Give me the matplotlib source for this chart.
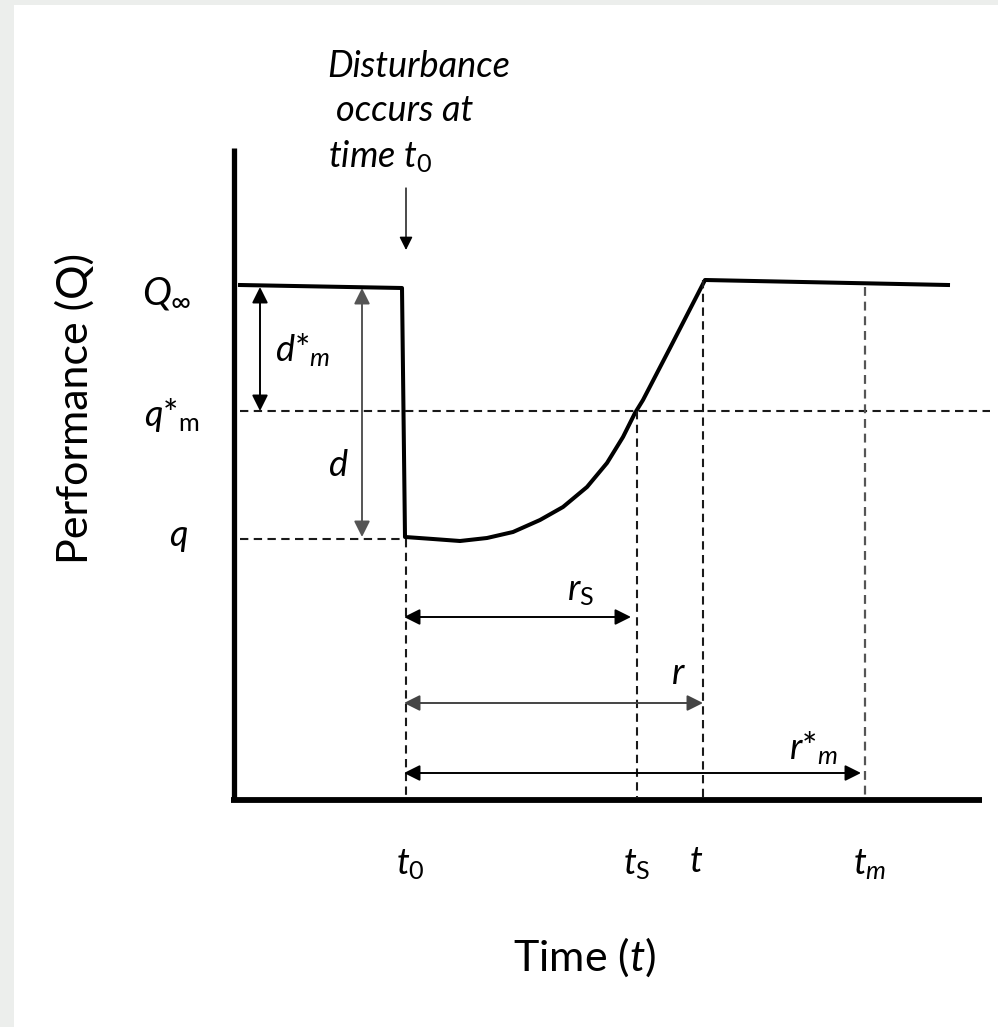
import matplotlib
matplotlib.use("Agg")
import matplotlib.pyplot as plt

plt.rcParams["font.family"] = ["Lato", "DejaVu Sans"]
plt.rcParams["mathtext.fontset"] = "custom"
plt.rcParams["mathtext.rm"] = "Lato"
plt.rcParams["mathtext.it"] = "Lato:italic"
plt.rcParams["mathtext.bf"] = "Lato:bold"

# Schematic values (time and performance in arbitrary units)
T0, TS, TR, TM = 1.72, 4.03, 4.69, 6.31
Q_INF, Q_STAR, Q_MIN = 5.14, 3.89, 2.61

# performance curve: level before the disturbance, drop, recovery, new level
curve_t = [0.06, 1.68, 1.71, 1.99, 2.26, 2.53, 2.79, 3.06, 3.29, 3.53,
           3.73, 3.89, 4.01, 4.09, 4.36, 4.71, 7.14]
curve_q = [5.15, 5.12, 2.63, 2.61, 2.59, 2.62, 2.68, 2.80, 2.93, 3.13,
           3.37, 3.63, 3.87, 4.00, 4.52, 5.20, 5.15]

# where the verticals leave the curve
drop_top = {"ts": Q_STAR, "t": 5.20, "tm": 5.13}

fig = plt.figure(figsize=(9.98, 10.27), dpi=100)
fig.patch.set_facecolor("#eceeec")
bg = fig.add_axes([14 / 998, 0, 984 / 998, 1022 / 1027])
bg.set_facecolor("white")
bg.set_xticks([])
bg.set_yticks([])
for s in bg.spines.values():
    s.set_visible(False)

ax = fig.add_axes([0, 0, 1, 1])
ax.set_xlim(-2.34, 7.64)
ax.set_ylim(-2.27, 8.0)
ax.axis("off")

# axes of the diagram
ax.plot([0, 0], [-0.01, 6.52], color="black", lw=3.8, solid_capstyle="butt")
ax.plot([-0.03, 7.48], [0, 0], color="black", lw=4.2, solid_capstyle="butt")

# curve
ax.plot(curve_t, curve_q, color="black", lw=2.9, solid_joinstyle="round")

dash = dict(color="#1a1a1a", lw=1.5, dashes=(4, 2.6))
ax.plot([0.06, 7.56], [Q_STAR, Q_STAR], **dash)
ax.plot([0.06, 1.71], [Q_MIN, Q_MIN], **dash)
ax.plot([T0, T0], [Q_MIN, 0.02], **dash)
ax.plot([TS, TS], [drop_top["ts"], 0.02], **dash)
ax.plot([TR, TR], [drop_top["t"], 0.02], **dash)
ax.plot([TM, TM], [drop_top["tm"], 0.02], color="#555555", lw=1.6, dashes=(4, 2.6))


def darrow(p0, p1, color="black"):
    ax.annotate("", xy=p1, xytext=p0,
                arrowprops=dict(arrowstyle="<|-|>", color=color, lw=1.4,
                                mutation_scale=24, shrinkA=0, shrinkB=0))


darrow((0.26, 5.13), (0.26, Q_STAR))
darrow((1.28, 5.12), (1.28, 2.63), color="#555555")
darrow((1.70, 1.83), (3.97, 1.83))
darrow((1.70, 0.97), (4.69, 0.97), color="#444444")
darrow((1.70, 0.27), (6.27, 0.27))

# disturbance arrow
ax.annotate("", xy=(1.72, 5.50), xytext=(1.72, 6.12),
            arrowprops=dict(arrowstyle="-|>", color="black", lw=1.0,
                            mutation_scale=20, shrinkA=0, shrinkB=0))

nfs = 26
ax.text(0.93, 7.23, "Disturbance", fontsize=nfs, style="italic", ha="left", va="baseline")
ax.text(1.02, 6.79, "occurs at", fontsize=nfs, style="italic", ha="left", va="baseline")
ax.text(0.94, 6.33, "time $t_0$", fontsize=nfs, style="italic", ha="left", va="baseline")

ax.text(-1.59, 3.92, "Performance (Q)", fontsize=31, rotation=90, ha="center", va="center")
ax.text(3.51, -1.57, "Time ($t$)", fontsize=31, ha="center", va="center")

tfs = 26
ax.text(-0.67, 5.07, r"$Q_\infty$", fontsize=28, ha="center", va="center")
ax.text(-0.62, 3.85, r"$q$*$_\mathrm{m}$", fontsize=tfs, ha="center", va="center")
ax.text(-0.56, 2.63, r"$q$", fontsize=tfs, ha="center", va="center")

ax.text(1.76, -0.65, r"$t_0$", fontsize=tfs, ha="center", va="center")
ax.text(4.03, -0.65, r"$t_\mathrm{S}$", fontsize=tfs, ha="center", va="center")
ax.text(4.62, -0.62, r"$t$", fontsize=tfs, ha="center", va="center")
ax.text(6.36, -0.65, r"$t_m$", fontsize=tfs, ha="center", va="center")

ax.text(0.69, 4.50, r"$d$*$_m$", fontsize=tfs, ha="center", va="center")
ax.text(1.04, 3.35, r"$d$", fontsize=tfs, ha="center", va="center")
ax.text(3.46, 2.08, r"$r_\mathrm{S}$", fontsize=tfs, ha="center", va="center")
ax.text(4.44, 1.27, r"$r$", fontsize=tfs, ha="center", va="center")
ax.text(5.79, 0.52, r"$r$*$_m$", fontsize=tfs, ha="center", va="center")

fig.savefig("out.png", dpi=100)
